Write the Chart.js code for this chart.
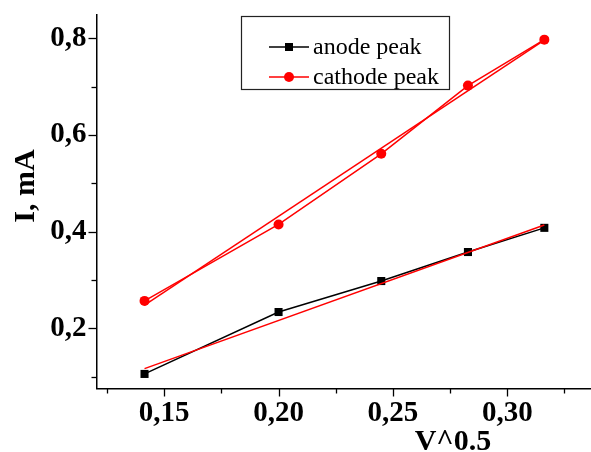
<!DOCTYPE html>
<html>
<head>
<meta charset="utf-8">
<script src="https://cdn.jsdelivr.net/npm/chart.js@4/dist/chart.umd.min.js"></script>
<style>
  html, body { margin: 0; padding: 0; background: #ffffff; overflow: hidden; }
  #wrap { position: relative; width: 591px; height: 452px; }
</style>
</head>
<body>
<div id="wrap"><canvas id="c"></canvas></div>
<script>
// ---- data ----
const xValues      = [0.1414, 0.2000, 0.2449, 0.2828, 0.3162];
const anodePeak    = [0.106, 0.234, 0.298, 0.358, 0.408];
const cathodePeak  = [0.257, 0.415, 0.561, 0.702, 0.797];
const fitX         = [0.1414, 0.3162];
const anodeFit     = [0.117, 0.414];
const cathodeFit   = [0.248, 0.796];
const seriesLabels = ['anode peak', 'cathode peak'];
const xMajorTicks  = [0.15, 0.20, 0.25, 0.30];
const xMinorTicks  = [0.125, 0.175, 0.225, 0.275, 0.325];
const yMajorTicks  = [0.2, 0.4, 0.6, 0.8];
const yMinorTicks  = [0.1, 0.3, 0.5, 0.7];
const xTitle = 'V^0.5';
const yTitle = 'I, mA';

const SERIF = '"Liberation Serif", "Times New Roman", serif';
const toPts = (xs, ys) => xs.map((x, i) => ({ x: x, y: ys[i] }));
const isMajor = (v, list) => list.some(m => Math.abs(m - v) < 1e-9);

const tickMarks = {
  id: 'tickMarks',
  afterDraw(chart) {
    const ctx = chart.ctx;
    ctx.save();
    ctx.strokeStyle = '#000';
    ctx.lineWidth = 1.3;
    const xs = chart.scales.x, ys = chart.scales.y;
    const xb = chart.chartArea.bottom, yl = chart.chartArea.left;
    xs.ticks.forEach(t => {
      const px = Math.round(xs.getPixelForValue(t.value)) + 0.5;
      const len = isMajor(t.value, xMajorTicks) ? 8 : 5;
      ctx.beginPath(); ctx.moveTo(px, xb); ctx.lineTo(px, xb + len); ctx.stroke();
    });
    ys.ticks.forEach(t => {
      const py = Math.round(ys.getPixelForValue(t.value)) + 0.5;
      const len = isMajor(t.value, yMajorTicks) ? 8 : 5;
      ctx.beginPath(); ctx.moveTo(yl, py); ctx.lineTo(yl - len, py); ctx.stroke();
    });
    ctx.restore();
  }
};

const titles = {
  id: 'titles',
  afterDraw(chart) {
    const ctx = chart.ctx;
    ctx.save();
    ctx.fillStyle = '#000';
    ctx.font = 'bold 30px ' + SERIF;
    ctx.textAlign = 'center';
    ctx.textBaseline = 'alphabetic';
    ctx.fillText(xTitle, 453, 450);
    ctx.translate(34, 186);
    ctx.rotate(-Math.PI / 2);
    ctx.fillText(yTitle, 0, 0);
    ctx.restore();
  }
};

const boxLegend = {
  id: 'boxLegend',
  afterDraw(chart) {
    const ctx = chart.ctx;
    ctx.save();
    const bx = 241, by = 16, bw = 208, bh = 73;
    ctx.strokeStyle = '#222';
    ctx.lineWidth = 1.2;
    ctx.strokeRect(bx + 0.5, by + 0.5, bw, bh);
    const rows = [47, 77];
    [0, 1].forEach(i => {
      const ds = chart.data.datasets[i];
      const y = rows[i];
      ctx.strokeStyle = ds.borderColor;
      ctx.lineWidth = 1.5;
      ctx.beginPath(); ctx.moveTo(269, y); ctx.lineTo(309, y); ctx.stroke();
      ctx.fillStyle = ds.pointBackgroundColor;
      if (ds.pointStyle === 'rect') {
        ctx.fillRect(285, y - 4, 8, 8);
      } else {
        ctx.beginPath(); ctx.arc(289, y, 5, 0, Math.PI * 2); ctx.fill();
      }
      ctx.fillStyle = '#000';
      ctx.font = '24px ' + SERIF;
      ctx.textAlign = 'left';
      ctx.textBaseline = 'middle';
      ctx.fillText(ds.label, 313, y + 1);
    });
    ctx.restore();
  }
};

new Chart(document.getElementById('c'), {
  type: 'scatter',
  data: {
    datasets: [
      { label: seriesLabels[0], data: toPts(xValues, anodePeak), showLine: true,
        borderColor: '#000000', backgroundColor: '#000000', pointBackgroundColor: '#000000',
        borderWidth: 1.5, pointStyle: 'rect', pointRadius: 5.7, pointBorderWidth: 0, order: 2, clip: false },
      { label: seriesLabels[1], data: toPts(xValues, cathodePeak), showLine: true,
        borderColor: '#ff0000', backgroundColor: '#ff0000', pointBackgroundColor: '#ff0000',
        borderWidth: 1.5, pointStyle: 'circle', pointRadius: 5, pointBorderWidth: 0, order: 2, clip: false },
      { label: 'anode fit', data: toPts(fitX, anodeFit), showLine: true,
        borderColor: '#ff0000', borderWidth: 1.5, pointRadius: 0, order: 1 },
      { label: 'cathode fit', data: toPts(fitX, cathodeFit), showLine: true,
        borderColor: '#ff0000', borderWidth: 1.5, pointRadius: 0, order: 1 }
    ]
  },
  options: {
    responsive: true,
    maintainAspectRatio: false,
    animation: false,
    layout: { autoPadding: false, padding: { left: 0, right: 0, top: 14.5, bottom: 0 } },
    plugins: { legend: { display: false }, tooltip: { enabled: false } },
    scales: {
      x: {
        type: 'linear', min: 0.1204, max: 0.3366,
        afterBuildTicks: s => { s.ticks = xMajorTicks.concat(xMinorTicks).sort((a, b) => a - b).map(v => ({ value: v })); },
        afterFit: s => { s.height = 63.5; s.paddingLeft = 0; s.paddingRight = 0; s.paddingTop = 0; s.paddingBottom = 0; },
        grid: { display: true, drawOnChartArea: false, drawTicks: false },
        border: { display: true, color: '#000', width: 1.5 },
        ticks: {
          color: '#000', padding: 8, maxRotation: 0, autoSkip: false,
          font: { family: SERIF, size: 29, weight: 'bold' },
          callback: v => isMajor(v, xMajorTicks) ? v.toFixed(2).replace('.', ',') : ''
        }
      },
      y: {
        type: 'linear', min: 0.0759, max: 0.849,
        afterBuildTicks: s => { s.ticks = yMajorTicks.concat(yMinorTicks).sort((a, b) => a - b).map(v => ({ value: v })); },
        afterFit: s => { s.width = 96.5; s.paddingLeft = 0; s.paddingRight = 0; s.paddingTop = 0; s.paddingBottom = 0; },
        grid: { display: true, drawOnChartArea: false, drawTicks: false },
        border: { display: true, color: '#000', width: 1.5 },
        ticks: {
          color: '#000', padding: 10, autoSkip: false,
          font: { family: SERIF, size: 29, weight: 'bold' },
          callback: v => isMajor(v, yMajorTicks) ? v.toFixed(1).replace('.', ',') : ''
        }
      }
    }
  },
  plugins: [tickMarks, titles, boxLegend]
});
</script>
</body>
</html>
